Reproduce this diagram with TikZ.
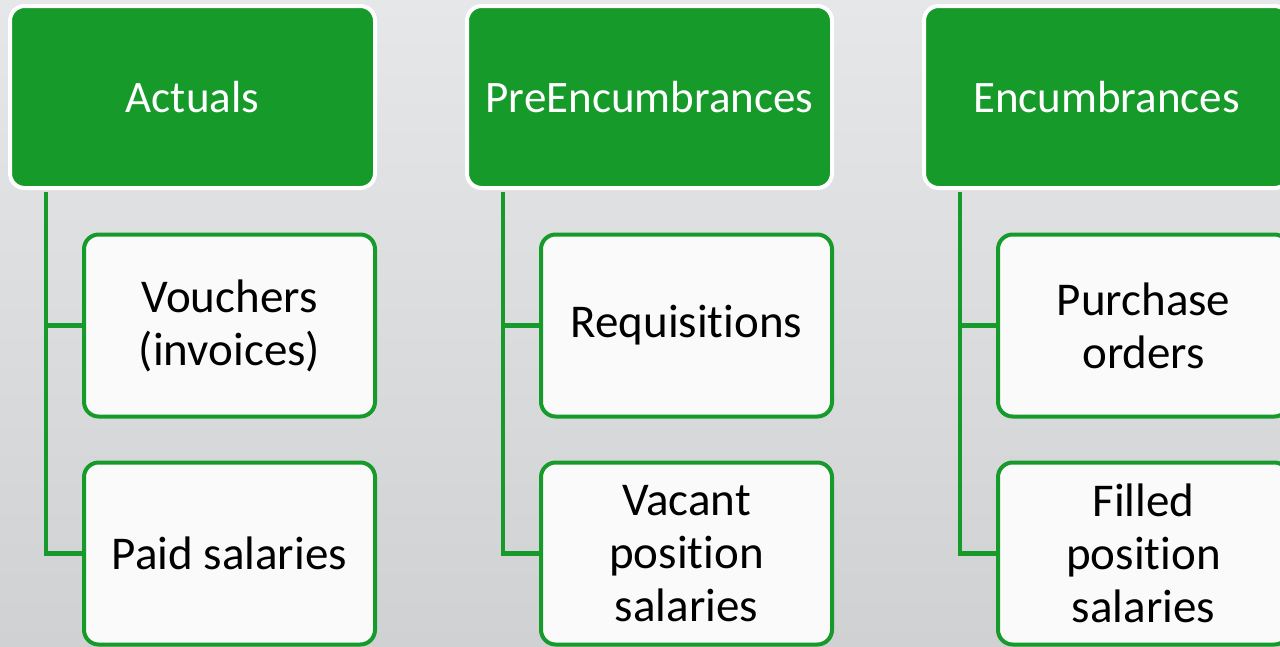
\documentclass[tikz,border=0pt]{standalone}
\usepackage{fontspec}
\setmainfont{Carlito}[Ligatures={NoCommon}]
\definecolor{grn}{RGB}{22,155,43}
\definecolor{bgtop}{RGB}{230,231,232}
\definecolor{bgbot}{RGB}{208,209,211}
\definecolor{childfill}{RGB}{250,250,250}
\begin{document}
\begin{tikzpicture}[x=0.75pt,y=-0.75pt,
  topbox/.style={draw=white, fill=grn, line width=3pt, rounded corners=11pt,
    minimum width=365*0.75pt, minimum height=182*0.75pt, inner sep=0pt,
    text=white, font=\fontsize{33.75}{38}\selectfont},
  childbox/.style={draw=grn, fill=childfill, line width=3pt, rounded corners=11pt,
    minimum width=291*0.75pt, minimum height=182*0.75pt, inner sep=0pt,
    align=center, text=black, font=\fontsize{35.25}{39.75}\selectfont},
  conn/.style={draw=grn, line width=3.2pt}]
\useasboundingbox (0,0) rectangle (1280,646);
\clip (0,0) rectangle (1280,646);
\shade[top color=bgtop, bottom color=bgbot] (0,0) rectangle (1280,646);

% column 1
\node[topbox] (a) at (192.5,97) {Actuals};
\node[childbox] (a1) at (229.5,325.5) {Vouchers\\(invoices)};
\node[childbox] (a2) at (229.5,553.5) {Paid salaries};
% column 2
\node[topbox] (b) at (649.5,97) {PreEncumbrances};
\node[childbox] (b1) at (686.5,325.5) {Requisitions};
\node[childbox] (b2) at (686.5,553.5) {Vacant\\position\\salaries};
% column 3
\node[topbox] (c) at (1106.5,97) {Encumbrances};
\node[childbox] (c1) at (1143.5,325.5) {Purchase\\orders};
\node[childbox] (c2) at (1143.5,553.5) {Filled\\position\\salaries};

\foreach \p in {a,b,c}{
  \draw[conn] ([xshift=38*0.75pt,yshift=-1.5pt]\p.south west) |- (\p1.west);
  \draw[conn] ([xshift=38*0.75pt,yshift=-1.5pt]\p.south west) |- (\p2.west);
}
\end{tikzpicture}
\end{document}
